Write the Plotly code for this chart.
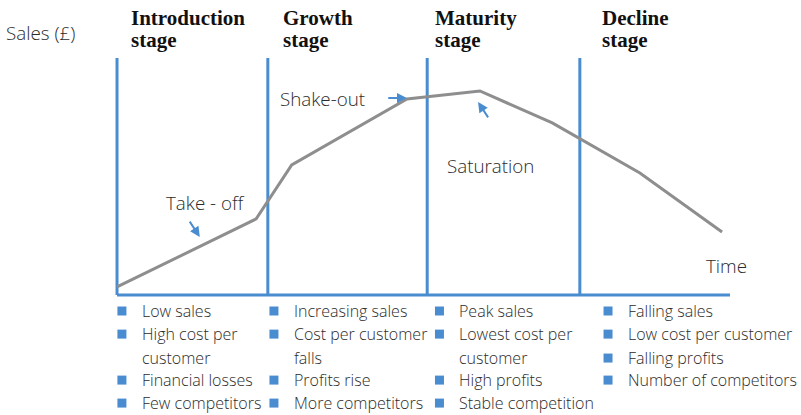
import plotly.graph_objects as go

# product life cycle curve (time vs sales, arbitrary units)
time = [0, 22.7, 28.5, 47.3, 59.2, 71.0, 85.3, 98.7]
sales = [3.4, 32.1, 54.9, 82.7, 86.1, 72.6, 51.5, 26.6]

stage_starts = [0, 24.6, 50.6, 75.5]
stage_names = ["Introduction", "Growth", "Maturity", "Decline"]
stage_title_x = [2.0, 26.8, 51.6, 78.8]

bullet_x = [0.8, 25.6, 52.6, 80.1]
text_x = [3.75, 28.55, 55.45, 83.05]
row_y = [-6.75, -16.5, -26.6, -35.9, -45.6]

features = [
    [("Low sales", True), ("High cost per", True), ("customer", False), ("Financial losses", True), ("Few competitors", True)],
    [("Increasing sales", True), ("Cost per customer", True), ("falls", False), ("Profits rise", True), ("More competitors", True)],
    [("Peak sales", True), ("Lowest cost per", True), ("customer", False), ("High profits", True), ("Stable competition", True)],
    [("Falling sales", True), ("Low cost per customer", True), ("Falling profits", True), ("Number of competitors", True)],
]

BLUE = "#4a8cd0"
GREY = "#8e8e8e"
TXT = "#2b2b2b"
SANS = "'Open Sans', Lato, sans-serif"
SERIF = "'Liberation Serif', serif"

fig = go.Figure()

# axis lines + stage dividers
fig.add_trace(go.Scatter(x=[0, 100], y=[0, 0], mode="lines", line=dict(color=BLUE, width=3),
                         hoverinfo="skip", cliponaxis=False))
for xs in stage_starts:
    fig.add_trace(go.Scatter(x=[xs, xs], y=[0, 100], mode="lines", line=dict(color=BLUE, width=3),
                             hoverinfo="skip", cliponaxis=False))

fig.add_trace(go.Scatter(x=time, y=sales, mode="lines", line=dict(color=GREY, width=3),
                         name="Sales", cliponaxis=False))

# bullets
bx, by = [], []
for i, col in enumerate(features):
    for j, (txt, bullet) in enumerate(col):
        if bullet:
            bx.append(bullet_x[i])
            by.append(row_y[j])
        fig.add_annotation(x=text_x[i], y=row_y[j], text=txt, showarrow=False, xanchor="left",
                           font=dict(family=SANS, size=16, color=TXT, weight=300))
fig.add_trace(go.Scatter(x=bx, y=by, mode="markers", marker=dict(symbol="square", size=9, color=BLUE),
                         hoverinfo="skip", cliponaxis=False))

# stage titles
for name, xt in zip(stage_names, stage_title_x):
    fig.add_annotation(x=xt, y=117.0, text="<b>" + name + "</b>", showarrow=False, xanchor="left",
                       font=dict(family=SERIF, size=21, color="#111"))
    fig.add_annotation(x=xt, y=107.6, text="<b>stage</b>", showarrow=False, xanchor="left",
                       font=dict(family=SERIF, size=21, color="#111"))

labels = [("Sales (£)", -18.4, 110.5), ("Shake-out", 26.3, 82.7), ("Saturation", 53.5, 54.4),
          ("Take - off", 7.7, 38.8), ("Time", 95.8, 12.2)]
for txt, xt, yt in labels:
    fig.add_annotation(x=xt, y=yt, text=txt, showarrow=False, xanchor="left",
                       font=dict(family=SANS, size=18.8, color=TXT, weight=300))

# pointer arrows
arrows = [(44.0, 83.1, 47.3, 83.1), (60.7, 74.3, 58.9, 81.4), (11.7, 31.6, 13.5, 24.5)]
for x0, y0, x1, y1 in arrows:
    fig.add_annotation(x=x1, y=y1, ax=x0, ay=y0, xref="x", yref="y", axref="x", ayref="y",
                       text="", showarrow=True, arrowhead=2, arrowsize=1, arrowwidth=2, arrowcolor=BLUE)

fig.update_layout(
    width=801, height=415,
    margin=dict(l=0, r=0, t=0, b=0),
    paper_bgcolor="white", plot_bgcolor="white",
    showlegend=False,
    xaxis=dict(range=[-19.09, 111.58], visible=False, fixedrange=True),
    yaxis=dict(range=[-50.63, 124.47], visible=False, fixedrange=True),
)

fig.write_html("out.html", config=dict(displayModeBar=False),
               post_script="document.body.style.margin='0';")
